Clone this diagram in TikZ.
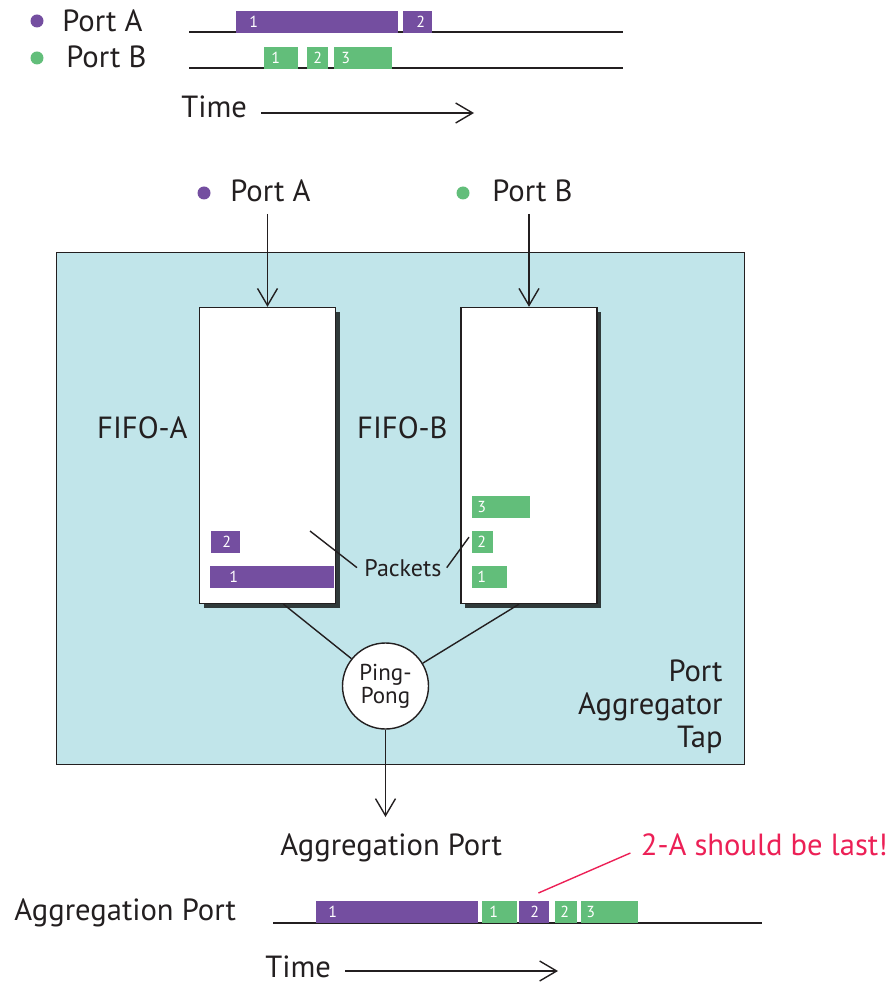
\documentclass[tikz,border=0pt]{standalone}
\usepackage{fontspec}
\setmainfont{PT Sans}
\usetikzlibrary{arrows.meta, positioning, shadows}
\definecolor{portpurple}{RGB}{116,78,160}
\definecolor{portgreen}{RGB}{98,190,122}
\definecolor{tapblue}{RGB}{193,229,234}
\definecolor{warnred}{RGB}{236,32,86}
\definecolor{fifoshade}{RGB}{48,58,58}
\definecolor{inkgray}{RGB}{35,31,32}

\tikzset{
  lbl/.style={font=\fontsize{15.3}{16.5}\selectfont, text=inkgray, inner sep=0pt},
  dot/.style={circle, inner sep=0pt, minimum size=6.5pt},
  pktbox/.style={rectangle, inner sep=0pt, minimum height=10.75pt},
  pktnum/.style={font=\fontsize{8}{8}\selectfont, text=white, inner sep=0pt, anchor=west},
  wire/.style={line width=0.7pt, draw=inkgray},
  arr/.style={wire, -{Straight Barb[length=8.5pt, width=10pt, line width=0.7pt]}},
}

% name, colour, x left, x right, y top, number offset, number
\newcommand{\pkt}[7]{%
  \node[pktbox, fill=#2, minimum width={(#4-#3)*0.5pt}, anchor=north west] (#1) at (#3,#5) {};
  \node[pktnum] (#1n) at ([xshift=#6]#1.west) {#7};}

\begin{document}
\begin{tikzpicture}[x=0.5pt, y=-0.5pt,
    tapbox/.style={draw=inkgray, line width=0.6pt, fill=tapblue, minimum width=344pt,
                   minimum height=256pt, anchor=north west},
    fifo/.style={draw=inkgray, line width=0.7pt, fill=white, minimum width=68pt,
                 minimum height=148pt,
                 general shadow={fill=fifoshade, shadow xshift=2.2pt, shadow yshift=-2.2pt}},
    pingpong/.style={circle, draw=inkgray, line width=0.7pt, fill=white, minimum size=43pt,
                     inner sep=0pt, align=center, text=inkgray,
                     font=\fontsize{11.5}{11.5}\selectfont}
]
  \useasboundingbox (0,0) rectangle (893,983);

  % input ports over time
  \node[dot, fill=portpurple] (dota) at (37,21) {};
  \node[lbl, anchor=base west] (lbla) at (62,32) {Port A};
  \node[dot, fill=portgreen] (dotb) at (37,58) {};
  \node[lbl, anchor=base west] (lblb) at (66,68) {Port B};
  \coordinate (lina0) at (189,32);
  \coordinate (lina1) at (623,32);
  \coordinate (linb0) at (189,68);
  \coordinate (linb1) at (623,68);
  \draw[wire] (lina0) -- (lina1);
  \draw[wire] (linb0) -- (linb1);
  \pkt{ta1}{portpurple}{236}{398}{11}{6.5pt}{1}
  \pkt{ta2}{portpurple}{403}{432}{11}{6.5pt}{2}
  \pkt{tb1}{portgreen}{264}{298}{47}{3.5pt}{1}
  \pkt{tb2}{portgreen}{307}{328}{47}{3pt}{2}
  \pkt{tb3}{portgreen}{334}{392}{47}{3.5pt}{3}
  \node[lbl, anchor=base west] (timet) at (181,118) {Time};
  \coordinate (timetend) at (474,113);
  \draw[arr] ([shift={(7pt,2.5pt)}]timet.base east) -- (timetend);

  % the tap
  \node[dot, fill=portpurple] (dotpa) at (204,193) {};
  \node[lbl, anchor=base west] (pa) at (230,202) {Port A};
  \node[dot, fill=portgreen] (dotpb) at (463,193) {};
  \node[lbl, anchor=base west] (pb) at (492,202) {Port B};

  \node[tapbox] (tap) at (56,252) {};
  \node[fifo] (fifoa) at (267.5,455.5) {};
  \node[fifo] (fifob) at (529,455.5) {};
  \draw[arr, shorten <=5.5pt] (fifoa.north |- pa.south) -- (fifoa.north);
  \draw[arr, shorten <=5.5pt] (fifob.north |- pb.south) -- (fifob.north);
  \node[lbl, anchor=base east] (fifoalbl) at (188,438) {FIFO-A};
  \node[lbl, anchor=base east] (fifoblbl) at (448,438) {FIFO-B};

  \pkt{fa2}{portpurple}{211}{240}{531}{5.5pt}{2}
  \pkt{fa1}{portpurple}{210}{334}{566}{9.5pt}{1}
  \pkt{fb3}{portgreen}{472}{530}{496}{2.5pt}{3}
  \pkt{fb2}{portgreen}{472}{493}{531}{2.5pt}{2}
  \pkt{fb1}{portgreen}{472}{507}{566}{2.5pt}{1}

  \node[lbl, font=\fontsize{12}{14}\selectfont, anchor=base west] (pk) at (364,576) {Packets};
  \coordinate (pkfa) at (310,531);
  \draw[wire] ([xshift=-3.5pt]pk.west) -- (pkfa);
  \draw[wire] ([xshift=2.5pt]pk.east) -- ([shift={(-1.5pt,2.5pt)}]fb2.west);

  \node[pingpong] (pp) at (385.5,686) {Ping-\\Pong};
  \draw[wire] ([xshift=8pt]fifoa.south) -- (pp);
  \draw[wire] ([xshift=-5pt]fifob.south) -- (pp);
  \node[lbl, align=right, anchor=east, font=\fontsize{15.3}{16.5}\selectfont] (taplbl) at (723,707) {Port\\Aggregator\\Tap};

  \coordinate (aggtip) at (385.5,817);
  \draw[arr] (pp) -- (aggtip);
  \node[lbl, anchor=base west] (aggp) at (280,855) {Aggregation Port};

  % output port over time
  \node[lbl, anchor=base west] (lblagg) at (14,920) {Aggregation Port};
  \coordinate (linc0) at (273,923);
  \coordinate (linc1) at (762,923);
  \draw[wire] (linc0) -- (linc1);
  \pkt{ba1}{portpurple}{316}{478}{901}{6pt}{1}
  \pkt{bb1}{portgreen}{482}{517}{901}{3.5pt}{1}
  \pkt{ba2}{portpurple}{519}{549}{901}{5.5pt}{2}
  \pkt{bb2}{portgreen}{555}{577}{901}{2.5pt}{2}
  \pkt{bb3}{portgreen}{581}{638}{901}{2.5pt}{3}
  \node[lbl, anchor=base west] (timeb) at (265,977) {Time};
  \coordinate (timebend) at (558,971);
  \draw[arr] ([shift={(7pt,3pt)}]timeb.base east) -- (timebend);

  \node[lbl, text=warnred, anchor=base east] (warn) at (888,855) {2-A should be last!};
  \draw[draw=warnred, line width=0.7pt] ([shift={(-5pt,1pt)}]warn.base west) -- ([shift={(2pt,4pt)}]ba2.north);
\end{tikzpicture}
\end{document}
